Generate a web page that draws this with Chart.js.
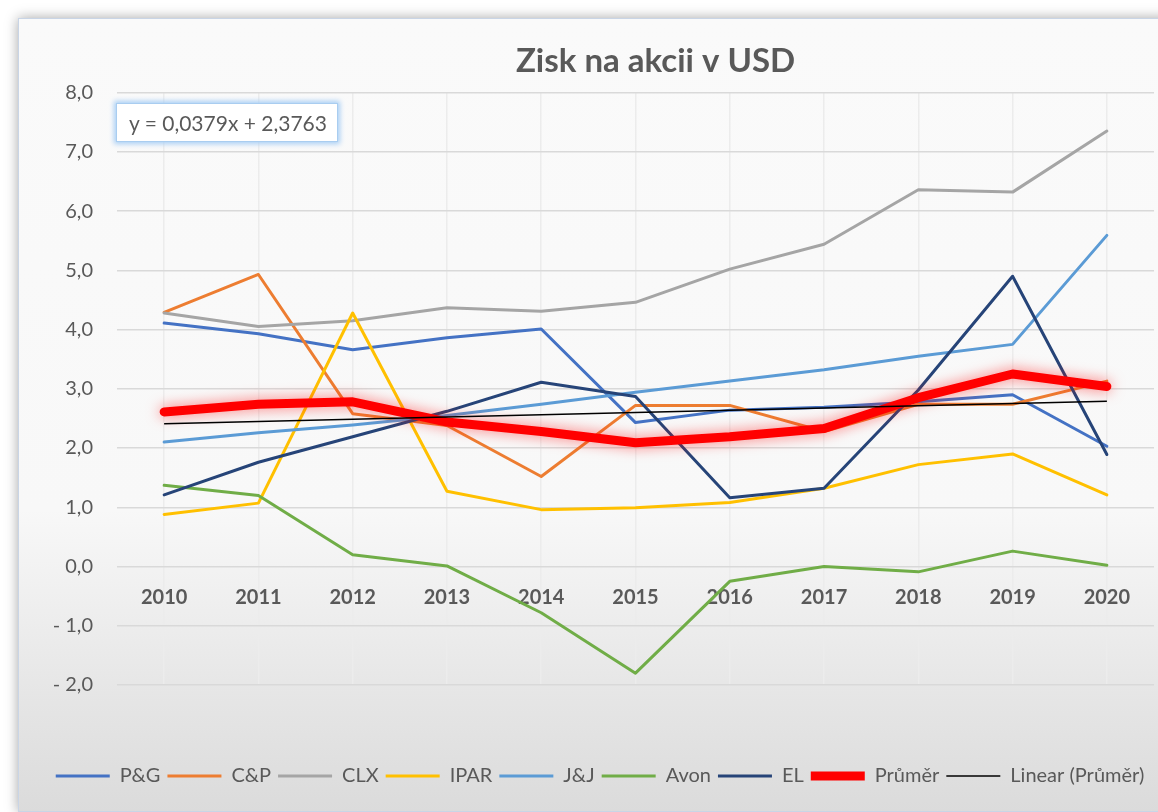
<!DOCTYPE html>
<html>
<head>
<meta charset="utf-8">
<script src="https://cdn.jsdelivr.net/npm/chart.js@4.4.1/dist/chart.umd.min.js"></script>
<style>
  body { margin: 0; background: #fff; overflow: hidden; width: 1158px; height: 812px; position: relative; }
  #frame {
    position: absolute; left: 18px; top: 18px; width: 1170px; height: 792px;
    background: linear-gradient(to bottom, #fafafa 0%, #f8f8f8 62%, #e6e6e6 85%, #dbdbdb 100%);
    border: 1px solid #c9d5e6;
    box-shadow: 0 0 12px rgba(0,0,0,0.35);
  }
  #wrap { position: absolute; left: 18px; top: 18px; width: 1158px; height: 792px; }
  #eq {
    position: absolute; left: 116px; top: 103px; width: 208px; height: 37px;
    background: #fff; border: 1px solid #a9cdf0;
    box-shadow: 0 0 5px 2px #a8cff5;
    font: 21px Lato, "Open Sans", sans-serif; color: #595959;
    line-height: 37px; padding-left: 12px; white-space: nowrap;
  }
</style>
</head>
<body>
<div id="frame"></div>
<div id="wrap"><canvas id="chart"></canvas></div>
<div id="eq">y = 0,0379x + 2,3763</div>
<script>
// values
const years = ['2010', '2011', '2012', '2013', '2014', '2015', '2016', '2017', '2018', '2019', '2020'];
const pg   = [4.11, 3.93, 3.66, 3.86, 4.01, 2.43, 2.64, 2.69, 2.78, 2.90, 2.03];
const cp   = [4.29, 4.93, 2.58, 2.38, 1.52, 2.72, 2.72, 2.28, 2.74, 2.74, 3.13];
const clx  = [4.28, 4.05, 4.15, 4.37, 4.31, 4.46, 5.02, 5.44, 6.36, 6.32, 7.35];
const ipar = [0.88, 1.07, 4.28, 1.27, 0.96, 0.99, 1.08, 1.32, 1.72, 1.90, 1.21];
const jj   = [2.10, 2.26, 2.39, 2.55, 2.74, 2.94, 3.13, 3.32, 3.55, 3.75, 5.59];
const avon = [1.37, 1.20, 0.20, 0.01, -0.78, -1.80, -0.25, 0.00, -0.09, 0.26, 0.02];
const el   = [1.21, 1.76, 2.19, 2.62, 3.11, 2.87, 1.16, 1.32, 2.98, 4.90, 1.89];
const avg  = [2.61, 2.74, 2.78, 2.44, 2.28, 2.09, 2.19, 2.33, 2.85, 3.25, 3.04];
// trendline end points only, the middle is spanned
const trend = [2.41, null, null, null, null, null, null, null, null, null, 2.79];

const FONT = 'Lato, "Open Sans", sans-serif';
const GREY = '#595959';

function series(label, data, color, width) {
  return {
    label, data,
    borderColor: color, backgroundColor: color,
    borderWidth: width,
    pointRadius: 0, pointHoverRadius: 0,
    borderJoinStyle: 'round', borderCapStyle: 'round',
    tension: 0
  };
}

const datasets = [
  series('P&G', pg, '#4472C4', 3),
  series('C&P', cp, '#ED7D31', 3),
  series('CLX', clx, '#A5A5A5', 3),
  series('IPAR', ipar, '#FFC000', 3),
  series('J&J', jj, '#5B9BD5', 3),
  series('Avon', avon, '#70AD47', 3),
  series('EL', el, '#264478', 3),
  series('Průměr', avg, '#FF0000', 9),
  Object.assign(series('Linear (Průměr)', trend, '#000000', 1.5), { spanGaps: true, borderCapStyle: 'butt' })
];
// later series drawn on top, like Excel
datasets.forEach((d, i) => { d.order = datasets.length - i; });

// red glow under the average line
const glow = {
  id: 'glow',
  beforeDatasetDraw(chart, args) {
    if (args.index === 7) {
      chart.ctx.save();
      chart.ctx.shadowColor = 'rgba(255,0,0,0.55)';
      chart.ctx.shadowBlur = 14;
    }
  },
  afterDatasetDraw(chart, args) {
    if (args.index === 7) chart.ctx.restore();
  }
};

// Excel centres the title a bit right of the plot centre
const titleShift = {
  id: 'titleShift',
  afterLayout(chart) {
    if (chart.titleBlock) chart.titleBlock.left += 40;
  }
};

const fmt = v => (v < 0 ? '- ' : '') + Math.abs(v).toFixed(1).replace('.', ',');

new Chart(document.getElementById('chart'), {
  type: 'line',
  data: { labels: years, datasets },
  plugins: [glow, titleShift],
  options: {
    responsive: true,
    maintainAspectRatio: false,
    animation: false,
    layout: { padding: { left: 28, right: 22, top: 0, bottom: 14 } },
    plugins: {
      title: {
        display: true,
        text: 'Zisk na akcii v USD',
        fullSize: false,
        color: GREY,
        font: { family: FONT, size: 33, weight: 'bold' },
        padding: { top: 24, bottom: 11 }
      },
      legend: {
        position: 'bottom',
        labels: {
          usePointStyle: true,
          pointStyle: 'line',
          pointStyleWidth: 54,
          color: GREY,
          padding: 7,
          font: { family: FONT, size: 20 },
          sort: (a, b) => a.datasetIndex - b.datasetIndex
        }
      },
      tooltip: { enabled: false }
    },
    scales: {
      x: {
        type: 'category',
        offset: true,
        grid: { color: '#ececec', lineWidth: 1.5, drawTicks: false },
        border: { display: false },
        ticks: { display: false },
        afterFit: s => { s.height = 74; }
      },
      xl: {
        type: 'category',
        labels: years,
        offset: true,
        position: { y: 0 },
        grid: { display: false, drawTicks: false },
        border: { display: false },
        ticks: { color: GREY, padding: 19, font: { family: FONT, size: 20, weight: 'bold' } }
      },
      y: {
        min: -2, max: 8,
        grid: { color: '#d9d9d9', lineWidth: 1.5, drawTicks: false },
        border: { display: false },
        ticks: { stepSize: 1, color: GREY, padding: 24, font: { family: FONT, size: 20 }, callback: fmt },
        afterFit: s => { s.width = 71; }
      }
    }
  }
});
</script>
</body>
</html>
